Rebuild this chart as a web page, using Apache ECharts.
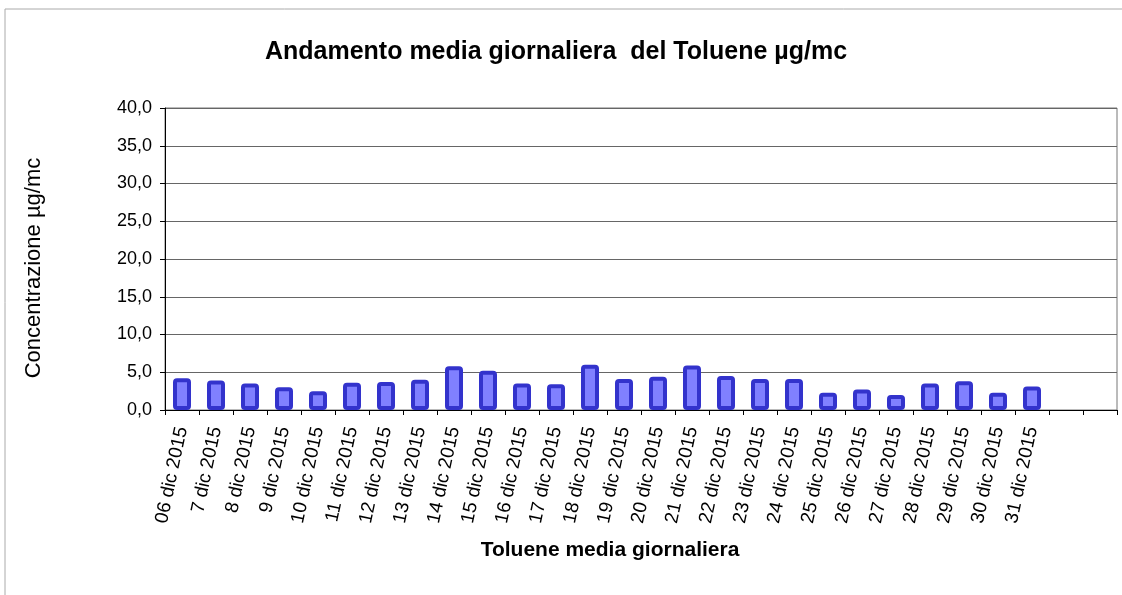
<!DOCTYPE html>
<html>
<head>
<meta charset="utf-8">
<script src="https://cdn.jsdelivr.net/npm/echarts@6/dist/echarts.min.js"></script>
<style>
  html, body { margin: 0; padding: 0; background: #fff; }
  #chart { width: 1122px; height: 595px; }
</style>
</head>
<body>
<div id="chart"></div>
<script>
// giorni (le ultime due colonne sono vuote nel grafico originale)
var giorni = ['06 dic 2015', '7 dic 2015', '8 dic 2015', '9 dic 2015', '10 dic 2015',
  '11 dic 2015', '12 dic 2015', '13 dic 2015', '14 dic 2015', '15 dic 2015',
  '16 dic 2015', '17 dic 2015', '18 dic 2015', '19 dic 2015', '20 dic 2015',
  '21 dic 2015', '22 dic 2015', '23 dic 2015', '24 dic 2015', '25 dic 2015',
  '26 dic 2015', '27 dic 2015', '28 dic 2015', '29 dic 2015', '30 dic 2015',
  '31 dic 2015', '', ''];
// media giornaliera toluene µg/mc
var toluene = [4.2, 3.9, 3.5, 3.0, 2.5, 3.6, 3.7, 4.0, 5.8, 5.2,
  3.5, 3.4, 6.0, 4.1, 4.4, 5.9, 4.5, 4.1, 4.1, 2.3,
  2.7, 2.0, 3.5, 3.8, 2.3, 3.1, null, null];
var yTicks = [0, 5, 10, 15, 20, 25, 30, 35, 40];

var chart = echarts.init(document.getElementById('chart'));
var option = {
  animation: false,
  backgroundColor: '#fff',
  textStyle: { fontFamily: 'Liberation Sans, Arial, sans-serif' },
  title: {
    text: 'Andamento media giornaliera  del Toluene µg/mc',
    left: 551,
    textAlign: 'center',
    top: 35,
    textStyle: { fontSize: 25, fontWeight: 'bold', color: '#000' }
  },
  graphic: [{
    type: 'rect',
    shape: { x: 5, y: 9, width: 1200, height: 700 },
    style: { fill: 'none', stroke: '#aaa', lineWidth: 1 },
    silent: true
  }],
  grid: {
    left: 165, right: 5, top: 108, bottom: 185,
    show: true, borderColor: '#777', borderWidth: 1
  },
  xAxis: {
    type: 'category',
    data: giorni,
    name: 'Toluene media giornaliera',
    nameLocation: 'middle',
    nameGap: 130,
    nameTextStyle: { fontSize: 21, fontWeight: 'bold', color: '#000', padding: [0, 0, 0, -62] },
    axisLine: { lineStyle: { color: '#000', width: 1 } },
    axisTick: { show: true, alignWithLabel: false, length: 5, lineStyle: { color: '#000' } },
    axisLabel: { rotate: 78, fontSize: 19, color: '#000', interval: 0, margin: 17 }
  },
  yAxis: {
    type: 'value',
    min: yTicks[0],
    max: yTicks[yTicks.length - 1],
    interval: 5,
    name: 'Concentrazione µg/mc',
    nameLocation: 'middle',
    nameGap: 120,
    nameTextStyle: { fontSize: 22, color: '#000', padding: [0, 18, 0, 0] },
    axisLine: { show: true, lineStyle: { color: '#000', width: 1 } },
    axisTick: { show: true, length: 5, lineStyle: { color: '#000' } },
    axisLabel: {
      fontSize: 18, color: '#000', margin: 13,
      formatter: function (v) { return v.toFixed(1).replace('.', ','); }
    },
    splitLine: { show: true, lineStyle: { color: '#666', width: 1 } }
  },
  series: [{
    type: 'bar',
    data: toluene,
    barWidth: 18,
    itemStyle: {
      color: '#8080ff',
      borderColor: '#3333cc',
      borderWidth: 4,
      borderRadius: 2
    }
  }]
};
chart.setOption(option);
</script>
</body>
</html>
